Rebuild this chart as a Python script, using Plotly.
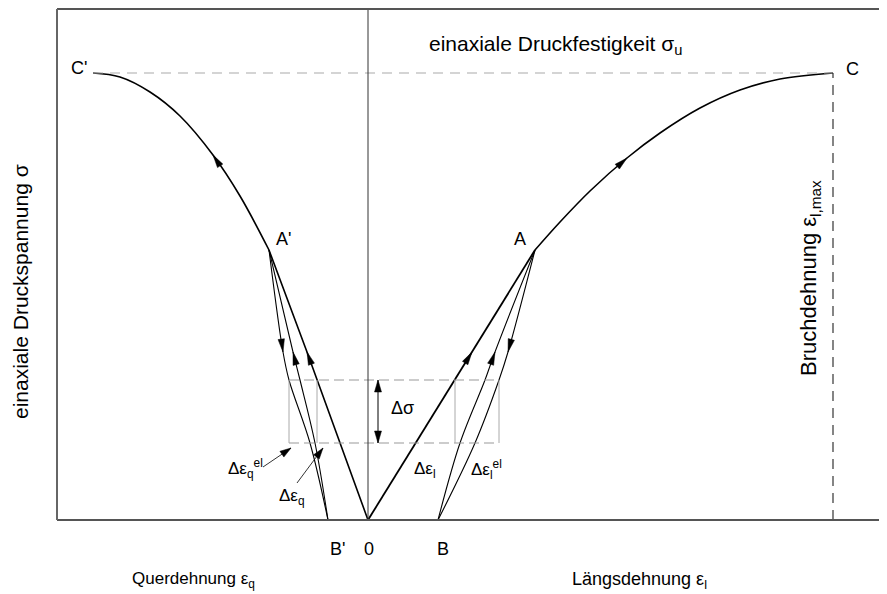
import plotly.graph_objects as go

# schematic units: strain offset from origin "0", stress above the strain axis
# longitudinal side (right)
load_l_eps = [0, 104, 167]
load_l_sig = [0, 168, 270]
env_l_eps = [167, 192, 222, 259, 292, 332, 372, 412, 465]
env_l_sig = [270, 298, 329, 362, 387, 412, 430, 441, 447]
unload_l_eps = [167, 140, 131, 107, 70]
unload_l_sig = [270, 168, 140, 77, 0]
reload_l_eps = [70, 92, 117, 127, 167]
reload_l_sig = [0, 77, 140, 168, 270]

# transverse side (left)
load_q_eps = [0, -61, -99]
load_q_sig = [0, 168, 270]
env_q_eps = [-99, -128, -155, -188, -218, -248, -275]
env_q_sig = [270, 324, 365, 404, 428, 443, 447]
unload_q_eps = [-99, -85, -79, -58, -40]
unload_q_sig = [270, 168, 140, 77, 0]
reload_q_eps = [-40, -53, -68, -75, -99]
reload_q_sig = [0, 77, 140, 168, 270]

sigma_u = 447
eps_l_max = 465
eps_q_max = -275
dsig_lo, dsig_hi = 77, 140
box_q = [-79, -51]
box_l = [87, 131]

FONT = "Liberation Sans, Arial, sans-serif"
fig = go.Figure()


def curve(x, y, width, shape="spline"):
    fig.add_trace(go.Scatter(x=x, y=y, mode="lines",
                             line=dict(color="black", width=width, shape=shape, smoothing=1.0),
                             hoverinfo="skip"))


def head(tip, prev, length=13, half=3.2):
    dx, dy = tip[0] - prev[0], tip[1] - prev[1]
    n = (dx ** 2 + dy ** 2) ** 0.5
    ux, uy = dx / n, dy / n
    bx, by = tip[0] - ux * length, tip[1] - uy * length
    xs = [tip[0], bx - uy * half, bx + uy * half, tip[0]]
    ys = [tip[1], by + ux * half, by - ux * half, tip[1]]
    fig.add_trace(go.Scatter(x=xs, y=ys, mode="lines", fill="toself",
                             fillcolor="black", line=dict(color="black", width=0.5),
                             hoverinfo="skip"))


# reference lines
fig.add_shape(type="line", x0=eps_q_max, x1=eps_l_max, y0=sigma_u, y1=sigma_u,
              line=dict(color="#aaaaaa", width=1.2, dash="10px,7px"))
fig.add_shape(type="line", x0=eps_l_max, x1=eps_l_max, y0=0, y1=sigma_u,
              line=dict(color="#222222", width=1.1, dash="10px,7px"))
for s in (dsig_lo, dsig_hi):
    fig.add_shape(type="line", x0=box_q[0], x1=box_l[1], y0=s, y1=s,
                  line=dict(color="#999999", width=1.1, dash="10px,5px"))
for e in box_q + box_l:
    fig.add_shape(type="line", x0=e, x1=e, y0=dsig_lo, y1=dsig_hi,
                  line=dict(color="#aaaaaa", width=1))
fig.add_shape(type="line", x0=0, x1=0, y0=0, y1=511, line=dict(color="#333333", width=1))
# frame
fig.add_shape(type="line", x0=-311, x1=519, y0=0, y1=0, line=dict(color="#555555", width=2))
fig.add_shape(type="line", x0=-311, x1=519, y0=511, y1=511, line=dict(color="#555555", width=2))
fig.add_shape(type="line", x0=-311, x1=-311, y0=0, y1=511, line=dict(color="#666666", width=2))

# curves
curve(load_l_eps, load_l_sig, 1.8, "linear")
curve(load_q_eps, load_q_sig, 1.6, "linear")
curve(env_l_eps, env_l_sig, 1.6)
curve(env_q_eps, env_q_sig, 1.6)
for x, y in [(unload_l_eps, unload_l_sig), (reload_l_eps, reload_l_sig),
             (unload_q_eps, unload_q_sig), (reload_q_eps, reload_q_sig)]:
    curve(x, y, 1.1)

# arrowheads on the curves
head((load_l_eps[1], load_l_sig[1]), (load_l_eps[0], load_l_sig[0]))
head((load_q_eps[1], load_q_sig[1]), (load_q_eps[0], load_q_sig[0]))
head((env_l_eps[3], env_l_sig[3]), (env_l_eps[2], env_l_sig[2]))
head((env_q_eps[2], env_q_sig[2]), (env_q_eps[1], env_q_sig[1]))
head((unload_l_eps[1], unload_l_sig[1]), (unload_l_eps[0], unload_l_sig[0]))
head((reload_l_eps[3], reload_l_sig[3]), (reload_l_eps[2], reload_l_sig[2]))
head((unload_q_eps[1], unload_q_sig[1]), (unload_q_eps[0], unload_q_sig[0]))
head((reload_q_eps[3], reload_q_sig[3]), (reload_q_eps[2], reload_q_sig[2]))

# delta sigma double arrow
fig.add_trace(go.Scatter(x=[10, 10], y=[dsig_lo, dsig_hi], mode="lines",
                         line=dict(color="black", width=1), hoverinfo="skip"))
head((10, dsig_hi), (10, dsig_lo), 12, 3.5)
head((10, dsig_lo), (10, dsig_hi), 12, 3.5)

# pointer arrows for the transverse labels
for tail, tip in [((-105, 53), (-77, 72)), ((-71, 37), (-45, 72))]:
    fig.add_trace(go.Scatter(x=[tail[0], tip[0]], y=[tail[1], tip[1]], mode="lines",
                             line=dict(color="black", width=0.8), hoverinfo="skip"))
    head(tip, tail, 11, 3.5)

labels = [
    ("einaxiale Druckfestigkeit σ<sub>u</sub>", 187, 475, 21, 0),
    ("C'", -289, 452, 18, 0),
    ("C", 484, 451, 18, 0),
    ("A'", -85, 281, 18, 0),
    ("A", 152, 281, 18, 0),
    ("B'", -31, -29, 18, 0),
    ("0", 1, -29, 18, 0),
    ("B", 75, -29, 18, 0),
    ("Querdehnung ε<sub>q</sub>", -175, -60, 17, 0),
    ("Längsdehnung ε<sub>l</sub>", 271, -60, 18, 0),
    ("einaxiale Druckspannung σ", -348, 228, 21, -90),
    ("Bruchdehnung ε<sub>l,max</sub>", 442, 242, 22, -90),
    ("Δσ", 34, 112, 18, 0),
    ("Δε<sub>q</sub><sup>el</sup>", -123, 52, 17, 0),
    ("Δε<sub>q</sub>", -76, 23, 17, 0),
    ("Δε<sub>l</sub>", 57, 50, 17, 0),
    ("Δε<sub>l</sub><sup>el</sup>", 118, 51, 17, 0),
]
for text, x, y, size, rot in labels:
    fig.add_annotation(x=x, y=y, text=text, showarrow=False, textangle=rot,
                       font=dict(family=FONT, size=size, color="black"))

# the page body adds an 8px offset, so the figure is 8px smaller than the window
fig.update_layout(
    width=879, height=586,
    margin=dict(l=0, r=0, t=0, b=0),
    paper_bgcolor="white", plot_bgcolor="white",
    showlegend=False,
    xaxis=dict(range=[-360, 519], visible=False, fixedrange=True),
    yaxis=dict(range=[-74, 512], visible=False, fixedrange=True),
)

fig.write_html("out.html")
